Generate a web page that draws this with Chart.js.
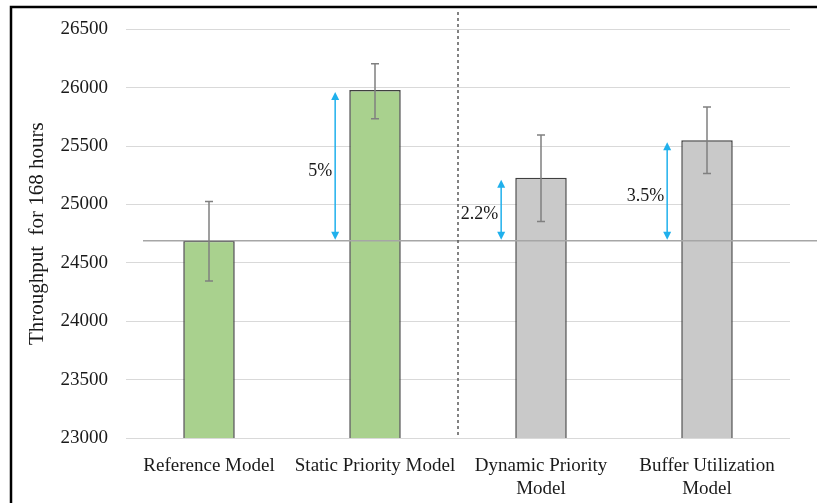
<!DOCTYPE html>
<html>
<head>
<meta charset="utf-8">
<script src="https://cdn.jsdelivr.net/npm/chart.js@4"></script>
<style>
  html, body { margin: 0; padding: 0; background: #fff; }
  #wrap { width: 817px; height: 503px; }
</style>
</head>
<body>
<div id="wrap"><canvas id="throughputChart"></canvas></div>
<script>
// chart values
const categories = ['Reference Model', 'Static Priority Model', ['Dynamic Priority', 'Model'], ['Buffer Utilization', 'Model']];
const throughput = [24690, 25980, 25230, 25550];
const errLow = [24345, 25735, 24855, 25265];
const errHigh = [25025, 26205, 25595, 25835];
const barColors = ['#A9D18E', '#A9D18E', '#C9C9C9', '#C9C9C9'];
const gainLabels = [null, '5%', '2.2%', '3.5%'];
const referenceValue = 24690;
const yTicks = [23000, 23500, 24000, 24500, 25000, 25500, 26000, 26500];

const serif = '"Liberation Serif", "Times New Roman", serif';

// draws error bars, reference line, separator, arrows and frame
const extrasPlugin = {
    id: 'extras',
    afterDatasetsDraw(chart) {
        const ctx = chart.ctx;
        const x = chart.scales.x;
        const y = chart.scales.y;
        const area = chart.chartArea;
        ctx.save();

        // reference line
        const yRef = y.getPixelForValue(referenceValue);
        ctx.strokeStyle = '#A6A6A6';
        ctx.lineWidth = 1.5;
        ctx.beginPath();
        ctx.moveTo(143, yRef);
        ctx.lineTo(chart.width, yRef);
        ctx.stroke();

        // error bars
        ctx.strokeStyle = '#808080';
        ctx.lineWidth = 1.5;
        throughput.forEach((v, i) => {
            const cx = x.getPixelForValue(i);
            const yl = y.getPixelForValue(errLow[i]);
            const yh = y.getPixelForValue(errHigh[i]);
            ctx.beginPath();
            ctx.moveTo(cx, yl); ctx.lineTo(cx, yh);
            ctx.moveTo(cx - 4, yl); ctx.lineTo(cx + 4, yl);
            ctx.moveTo(cx - 4, yh); ctx.lineTo(cx + 4, yh);
            ctx.stroke();
        });

        // dashed separator
        const xSep = (x.getPixelForValue(1) + x.getPixelForValue(2)) / 2;
        ctx.strokeStyle = '#595959';
        ctx.setLineDash([3, 3]);
        ctx.beginPath();
        ctx.moveTo(xSep, 12);
        ctx.lineTo(xSep, area.bottom);
        ctx.stroke();
        ctx.setLineDash([]);

        // gain arrows
        const step = x.getPixelForValue(1) - x.getPixelForValue(0);
        gainLabels.forEach((lbl, i) => {
            if (!lbl) return;
            const ax = x.getPixelForValue(i) - step * 0.24;
            const yTop = y.getPixelForValue(throughput[i]) + 2;
            const yBot = yRef - 1;
            ctx.strokeStyle = '#1FB0EC';
            ctx.fillStyle = '#1FB0EC';
            ctx.lineWidth = 1.5;
            ctx.beginPath();
            ctx.moveTo(ax, yTop + 6); ctx.lineTo(ax, yBot - 6);
            ctx.stroke();
            ctx.beginPath();
            ctx.moveTo(ax, yTop); ctx.lineTo(ax - 4, yTop + 8); ctx.lineTo(ax + 4, yTop + 8); ctx.closePath();
            ctx.fill();
            ctx.beginPath();
            ctx.moveTo(ax, yBot); ctx.lineTo(ax - 4, yBot - 8); ctx.lineTo(ax + 4, yBot - 8); ctx.closePath();
            ctx.fill();

            ctx.fillStyle = '#1A1A1A';
            ctx.font = '18px ' + serif;
            ctx.textAlign = 'right';
            ctx.textBaseline = 'middle';
            const ly = (yTop + yBot) / 2 + 5;
            ctx.fillText(lbl, ax - 3, ly);
        });

        // frame
        ctx.strokeStyle = '#000';
        ctx.lineWidth = 2.5;
        ctx.beginPath();
        ctx.moveTo(11, chart.height);
        ctx.lineTo(11, 7);
        ctx.lineTo(chart.width, 7);
        ctx.stroke();
        ctx.restore();
    }
};

new Chart(document.getElementById('throughputChart'), {
    type: 'bar',
    data: {
        labels: categories,
        datasets: [{
            data: throughput,
            backgroundColor: barColors,
            borderColor: '#404040',
            borderWidth: 1.5,
            barPercentage: 0.31,
            categoryPercentage: 1.0
        }]
    },
    options: {
        responsive: true,
        maintainAspectRatio: false,
        animation: false,
        layout: { padding: { left: 14, right: 27, top: 26, bottom: 0 } },
        plugins: {
            legend: { display: false },
            tooltip: { enabled: false }
        },
        scales: {
            x: {
                grid: { display: false },
                border: { display: false },
                ticks: {
                    color: '#1A1A1A',
                    font: { family: serif, size: 19 },
                    padding: 9,
                    maxRotation: 0,
                    autoSkip: false
                },
                afterFit: s => { s.height = 65; }
            },
            y: {
                min: 23000,
                max: 26500,
                afterBuildTicks: s => { s.ticks = yTicks.map(v => ({ value: v })); },
                grid: { color: '#D9D9D9', lineWidth: 1, drawTicks: false },
                border: { display: false },
                ticks: {
                    color: '#1A1A1A',
                    font: { family: serif, size: 19 },
                    padding: 18,
                    callback: v => String(v)
                },
                title: {
                    display: true,
                    text: 'Throughput  for 168 hours',
                    color: '#1A1A1A',
                    font: { family: serif, size: 21 },
                    padding: { top: 11, bottom: 0 }
                },
                afterFit: s => { s.width = 112; }
            }
        }
    },
    plugins: [extrasPlugin]
});
</script>
</body>
</html>
